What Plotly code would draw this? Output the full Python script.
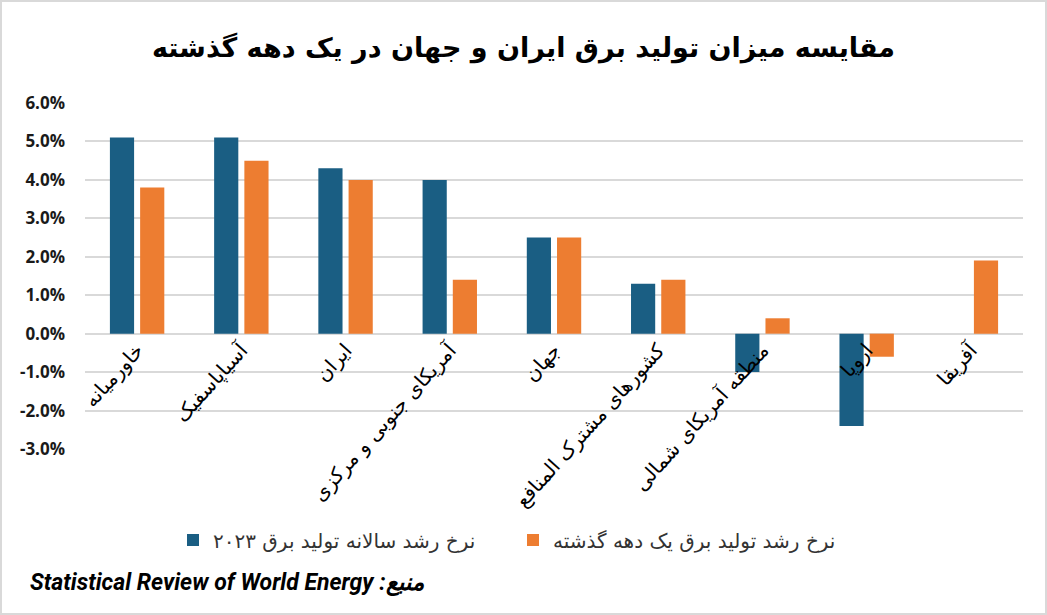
import plotly.graph_objects as go

categories = [
    "خاورمیانه",
    "آسیاپاسفیک",
    "ایران",
    "آمریکای جنوبی و مرکزی",
    "جهان",
    "کشورهای مشترک المنافع",
    "منطقه آمریکای شمالی",
    "اروپا",
    "آفریقا",
]
growth_2023 = [5.1, 5.1, 4.3, 4.0, 2.5, 1.3, -1.0, -2.4, 0.0]
growth_decade = [3.8, 4.5, 4.0, 1.4, 2.5, 1.4, 0.4, -0.6, 1.9]

series_2023_name = "نرخ رشد سالانه تولید برق ۲۰۲۳"
series_decade_name = "نرخ رشد تولید برق یک دهه گذشته"
title_text = "مقایسه میزان تولید برق ایران و جهان در یک دهه گذشته"
source_text = "Statistical Review of World Energy :منبع"
y_ticks = [-3, -2, -1, 0, 1, 2, 3, 4, 5, 6]

BLUE = "#1A5E83"
ORANGE = "#ED7D31"

fig = go.Figure()
fig.add_trace(go.Bar(x=categories, y=growth_2023, name=series_2023_name,
                     marker=dict(color=BLUE, line=dict(width=0))))
fig.add_trace(go.Bar(x=categories, y=growth_decade, name=series_decade_name,
                     marker=dict(color=ORANGE, line=dict(width=0))))

W, H = 1047, 615
ml, mr, mt, mb = 85, 24, 103, 166
pw, ph = W - ml - mr, H - mt - mb

fig.update_layout(
    width=W, height=H,
    margin=dict(l=ml, r=mr, t=mt, b=mb, pad=0),
    paper_bgcolor="white", plot_bgcolor="white",
    barmode="group", bargap=0.42, bargroupgap=0.2,
    title=dict(text=title_text, x=0.5, xanchor="center",
               y=1 - 48 / H, yanchor="middle",
               font=dict(family="DejaVu Sans", size=27, color="#000000", weight="bold")),
    showlegend=True,
    legend=dict(orientation="h", x=(173 - ml) / pw, xanchor="left",
                y=-(540 - (mt + ph)) / ph, yanchor="middle",
                font=dict(family="DejaVu Sans", size=20, color="#333333"),
                itemwidth=30, traceorder="normal", entrywidth=295, entrywidthmode="pixels"),
    yaxis=dict(range=[-3, 6], tickvals=y_ticks,
               ticktext=[f"{v:.1f}%" for v in y_ticks],
               showgrid=True, gridcolor="#D9D9D9", gridwidth=2,
               zeroline=False, showline=False, ticks="", ticklen=0,
               ticklabelstandoff=19,
               tickfont=dict(family="Open Sans", size=17, color="#1a1a1a", weight="bold"),
               fixedrange=True),
    xaxis=dict(anchor="free", position=3 / 9, tickangle=-48,
               showgrid=False, zeroline=False, showline=False, ticks="",
               tickfont=dict(family="DejaVu Sans", size=20, color="#000000"),
               fixedrange=True),
)

fig.add_annotation(text=source_text, xref="paper", yref="paper",
                   x=(28 - ml) / pw, xanchor="left",
                   y=-(583 - (mt + ph)) / ph, yanchor="middle",
                   showarrow=False,
                   font=dict(family="Roboto", size=23,
                             color="#000000", style="italic", weight="bold"))

fig.add_shape(type="rect", xref="paper", yref="paper",
              x0=-(ml - 1) / pw, x1=1 + (mr - 1) / pw,
              y0=-(mb - 1) / ph, y1=1 + (mt - 1) / ph,
              line=dict(color="#D9D9D9", width=2), fillcolor="rgba(0,0,0,0)", layer="below")

fig.write_html("out.html")
